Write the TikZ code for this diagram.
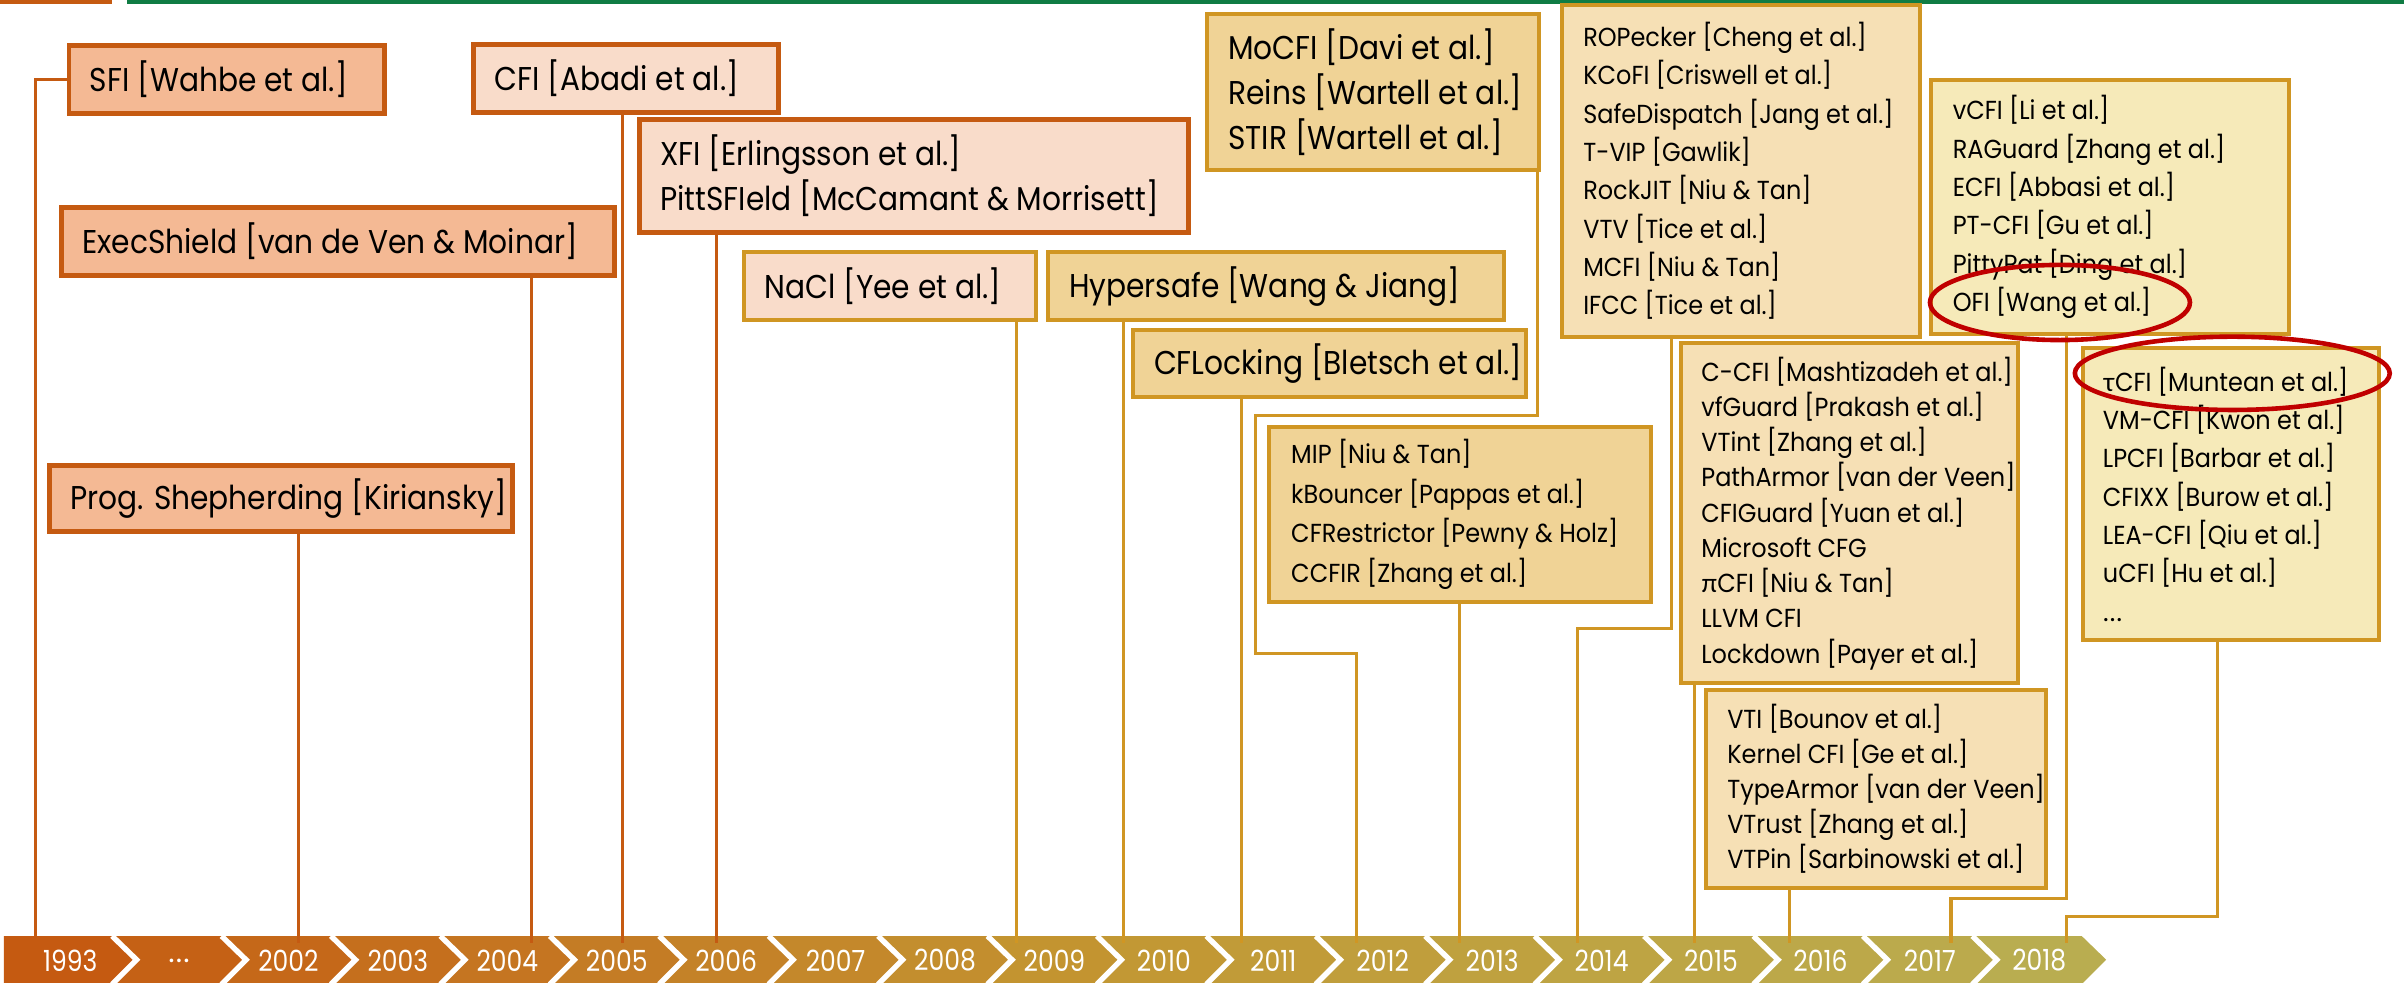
\documentclass[tikz,border=0pt]{standalone}
\usepackage{fontspec}
\setmainfont{Poppins}[FakeStretch=0.9]
\newfontfamily\sm{Poppins}[FakeStretch=0.92]
\newfontfamily\gk{Lato}
\newfontfamily\yr{Poppins}[FakeStretch=0.86]
\usetikzlibrary{calc}
\definecolor{dorange}{RGB}{197,90,17}
\definecolor{goldc}{RGB}{208,150,35}
\definecolor{salmonc}{RGB}{244,185,148}
\definecolor{peachc}{RGB}{249,220,202}
\definecolor{tanc}{RGB}{240,211,150}
\definecolor{wheatc}{RGB}{246,224,181}
\definecolor{creamc}{RGB}{246,234,185}
\definecolor{redc}{RGB}{192,0,0}
\definecolor{greenbar}{RGB}{16,124,68}
\newcommand{\ellip}{{\gk …}}
\begin{document}
\begin{tikzpicture}[x=1pt,y=1pt,
  obox/.style={draw=dorange, line width=3.2pt, rectangle, inner sep=0pt, outer sep=0pt, anchor=north west},
  gbox/.style={draw=goldc, line width=2.6pt, rectangle, inner sep=0pt, outer sep=0pt, anchor=north west},
  bigtxt/.style={anchor=west, align=left, inner sep=0pt, font=\fontsize{21.5}{29.4}\selectfont},
  smalltxt/.style={anchor=west, align=left, inner sep=0pt, font=\sm\fontsize{17}{25}\selectfont},
  oline/.style={draw=dorange, line width=2pt},
  gline/.style={draw=goldc, line width=2pt},
  yearlbl/.style={text=white, font=\yr\fontsize{19}{19}\selectfont, inner sep=0pt},
  hl/.style={draw=redc, line width=3pt}
]
\useasboundingbox (0,0) rectangle (1568,-641.1);
% top bars
\fill[dorange] (0,0) rectangle (73,-2.7);
\fill[greenbar] (83,0) rectangle (1568,-2.7);

% timeline ribbon
\foreach \i/\r/\g/\b in {0/197/90/17,1/197/97/21,2/197/104/25,3/197/111/29,4/197/117/33,5/196/124/37,6/196/130/40,7/196/136/43,8/195/142/46,9/195/148/48,10/194/152/52,11/193/155/56,12/192/158/60,13/191/161/63,14/190/164/67,15/189/166/70,16/188/168/73,17/187/170/76,18/185/173/80}{
  \definecolor{cc}{RGB}{\r,\g,\b}
  \pgfmathsetmacro{\L}{\i==0 ? 2.5 : 73.1+71.37*(\i-1)}
  \pgfmathsetmacro{\R}{73.1+71.37*\i}
  \pgfmathsetmacro{\N}{\i==0 ? 0 : 16}
  \fill[cc] (\L,-610.5) -- (\R,-610.5) -- (\R+16,-626) -- (\R,-642) -- (\L,-642) -- (\L+\N,-626) -- cycle;
}
\foreach \i in {0,...,17}{
  \pgfmathsetmacro{\B}{73.1+71.37*\i}
  \draw[white, line width=3.5pt] (\B,-610.5) -- (\B+16,-626) -- (\B,-642);
}
\foreach \i/\lab in {0/1993,1/\ellip,2/2002,3/2003,4/2004,5/2005,6/2006,7/2007,8/2008,9/2009,10/2010,11/2011,12/2012,13/2013,14/2014,15/2015,16/2016,17/2017,18/2018}{
  \pgfmathsetmacro{\L}{\i==0 ? 2.5 : 73.1+71.37*(\i-1)}
  \pgfmathsetmacro{\R}{73.1+71.37*\i}
  \node[yearlbl] (yr\i) at ({(\L+\R)/2+8},-626.5) {\lab};
}

% connector end points on the ribbon
\coordinate (t1993) at (23.3,-615);
\coordinate (t2002) at (194.7,-615);
\coordinate (t2004) at (346.7,-615);
\coordinate (t2005) at (406,-615);
\coordinate (t2006) at (467.6,-615);
\coordinate (t2009) at (662.7,-615);
\coordinate (t2010) at (732.5,-615);
\coordinate (t2011) at (809.5,-615);
\coordinate (t2012) at (884.5,-615);
\coordinate (t2013) at (952,-615);
\coordinate (t2014) at (1029,-615);
\coordinate (t2015) at (1105,-615);
\coordinate (t2016) at (1167,-615);
\coordinate (t2017) at (1272.5,-615);
\coordinate (t2018) at (1348,-615);
\coordinate (moA) at (819,-271);
\coordinate (moB) at (884.5,-426);
\coordinate (ropS) at (1090.5,-300);
\coordinate (ropA) at (1029,-409.7);
\coordinate (vcA) at (1272.5,-586);
\coordinate (tcS) at (1446.4,-500);
\coordinate (tcA) at (1348,-598);

% boxes
\node[obox, fill=salmonc, minimum width=206pt, minimum height=44.6pt] (sfi) at (45,-29.4) {};
\node[obox, fill=peachc, minimum width=198.5pt, minimum height=44.5pt] (cfi) at (309,-29) {};
\node[obox, fill=peachc, minimum width=358pt, minimum height=73.5pt] (xfi) at (417,-78) {};
\node[obox, fill=salmonc, minimum width=361pt, minimum height=44pt] (exec) at (40,-135.5) {};
\node[obox, fill=salmonc, minimum width=302pt, minimum height=43.1pt] (prog) at (32,-303.7) {};
\node[gbox, fill=peachc, minimum width=191pt, minimum height=44.1pt] (nacl) at (485,-164.6) {};
\node[gbox, fill=tanc, minimum width=297.4pt, minimum height=44.1pt] (hyper) at (683.6,-164.6) {};
\node[gbox, fill=tanc, minimum width=256pt, minimum height=44pt] (cflock) at (739,-215) {};
\node[gbox, fill=tanc, minimum width=216.5pt, minimum height=102pt] (mocfi) at (787.5,-9) {};
\node[gbox, fill=tanc, minimum width=249pt, minimum height=114pt] (mip) at (828,-278.5) {};
\node[gbox, fill=wheatc, minimum width=233pt, minimum height=216.3pt] (rop) at (1019,-3.3) {};
\node[gbox, fill=wheatc, minimum width=219.5pt, minimum height=221.6pt] (ccfi) at (1096.5,-224) {};
\node[gbox, fill=wheatc, minimum width=221.5pt, minimum height=129pt] (vti) at (1113,-450) {};
\node[gbox, fill=creamc, minimum width=233.5pt, minimum height=166pt] (vcfi) at (1259.5,-52) {};
\node[gbox, fill=creamc, minimum width=193pt, minimum height=190.4pt] (tcfi) at (1358.6,-227) {};

% texts
\node[bigtxt] (sfiT) at ([xshift=13.5pt]sfi.west) {SFI [Wahbe et al.]};
\node[bigtxt] (cfiT) at ([xshift=13.5pt]cfi.west) {CFI [Abadi et al.]};
\node[bigtxt] (xfiT) at ([xshift=13.5pt]xfi.west) {XFI [Erlingsson et al.]\\PittSFIeld [McCamant \& Morrisett]};
\node[bigtxt] (execT) at ([xshift=13.5pt]exec.west) {ExecShield [van de Ven \& Moinar]};
\node[bigtxt] (progT) at ([xshift=13.5pt]prog.west) {Prog. Shepherding [Kiriansky]};
\node[bigtxt] (naclT) at ([xshift=13.5pt]nacl.west) {NaCl [Yee et al.]};
\node[bigtxt] (hyperT) at ([xshift=13.5pt]hyper.west) {Hypersafe [Wang \& Jiang]};
\node[bigtxt] (cflockT) at ([xshift=13.5pt]cflock.west) {CFLocking [Bletsch et al.]};
\node[bigtxt] (mocfiT) at ([xshift=13.5pt]mocfi.west) {MoCFI [Davi et al.]\\Reins [Wartell et al.]\\STIR [Wartell et al.]};
\node[smalltxt, font=\sm\fontsize{17}{25.7}\selectfont] (mipT) at ([xshift=14pt]mip.west) {MIP [Niu \& Tan]\\kBouncer [Pappas et al.]\\CFRestrictor [Pewny \& Holz]\\CCFIR [Zhang et al.]};
\node[smalltxt] (ropT) at ([xshift=13.5pt]rop.west) {ROPecker [Cheng et al.]\\KCoFI [Criswell et al.]\\SafeDispatch [Jang et al.]\\T-VIP [Gawlik]\\RockJIT [Niu \& Tan]\\VTV [Tice et al.]\\MCFI [Niu \& Tan]\\IFCC [Tice et al.]};
\node[smalltxt, font=\sm\fontsize{17}{23}\selectfont] (ccfiT) at ([xshift=13pt]ccfi.west) {C-CFI [Mashtizadeh et al.]\\vfGuard [Prakash et al.]\\VTint [Zhang et al.]\\PathArmor [van der Veen]\\CFIGuard [Yuan et al.]\\Microsoft CFG\\{\gk π}CFI [Niu \& Tan]\\LLVM CFI\\Lockdown [Payer et al.]};
\node[smalltxt, font=\sm\fontsize{17}{22.8}\selectfont] (vtiT) at ([xshift=13.4pt]vti.west) {VTI [Bounov et al.]\\Kernel CFI [Ge et al.]\\TypeArmor [van der Veen]\\VTrust [Zhang et al.]\\VTPin [Sarbinowski et al.]};
\node[smalltxt] (vcfiT) at ([xshift=14pt]vcfi.west) {vCFI [Li et al.]\\RAGuard [Zhang et al.]\\ECFI [Abbasi et al.]\\PT-CFI [Gu et al.]\\PittyPat [Ding et al.]\\OFI [Wang et al.]};
\node[smalltxt] (tcfiT) at ([xshift=12.8pt]tcfi.west) {{\gk τ}CFI [Muntean et al.]\\VM-CFI [Kwon et al.]\\LPCFI [Barbar et al.]\\CFIXX [Burow et al.]\\LEA-CFI [Qiu et al.]\\uCFI [Hu et al.]\\\ellip};

% connectors
\draw[oline] (sfi.west) -| (t1993);
\draw[oline] (prog.south -| t2002) -- (t2002);
\draw[oline] (exec.south -| t2004) -- (t2004);
\draw[oline] (cfi.south -| t2005) -- (t2005);
\draw[oline] (xfi.south -| t2006) -- (t2006);
\draw[gline] (nacl.south -| t2009) -- (t2009);
\draw[gline] (hyper.south -| t2010) -- (t2010);
\draw[gline] (cflock.south -| t2011) -- (t2011);
\draw[gline] ([xshift=-1pt]mocfi.south east) |- (moA) |- (moB) -- (t2012);
\draw[gline] (mip.south -| t2013) -- (t2013);
\draw[gline] (rop.south -| ropS) |- (ropA) -- (t2014);
\draw[gline] (ccfi.south -| t2015) -- (t2015);
\draw[gline] (vti.south -| t2016) -- (t2016);
\draw[gline] (vcfi.south -| t2018) |- (vcA) -- (t2017);
\draw[gline] (tcfi.south -| tcS) |- (tcA) -- (t2018);

% highlights
\draw[hl] (1343.6,-197.3) ellipse [x radius=84.8, y radius=24.5];
\draw[hl] (1456,-243.5) ellipse [x radius=102.7, y radius=23.9];
\end{tikzpicture}
\end{document}
